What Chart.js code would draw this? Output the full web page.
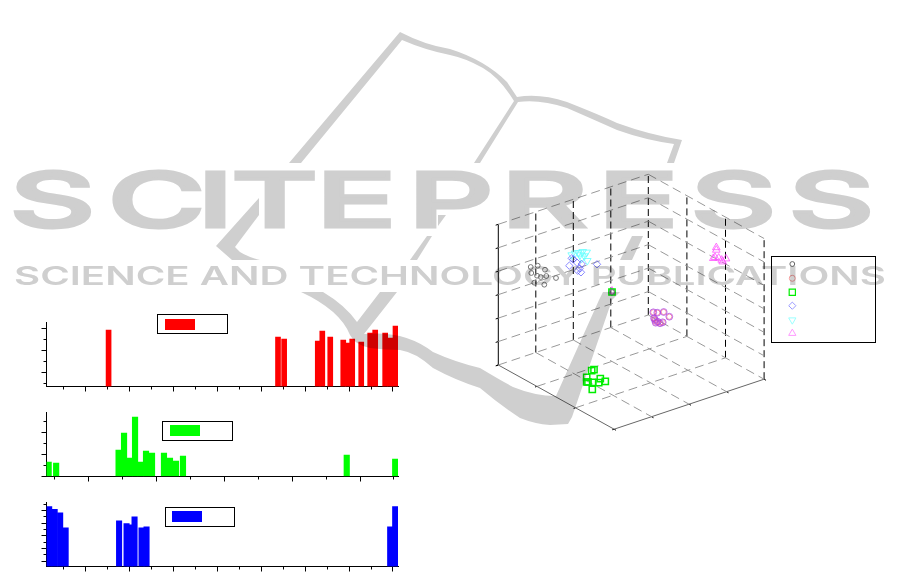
<!DOCTYPE html>
<html>
<head>
<meta charset="utf-8">
<title>Chart</title>
<script src="https://cdn.jsdelivr.net/npm/chart.js@4/dist/chart.umd.min.js"></script>
<style>
html, body { margin: 0; padding: 0; background: #fff; overflow: hidden; }
body { width: 901px; height: 572px; position: relative; }
canvas { position: absolute; }
.box { position: absolute; border: 1px solid #000; box-sizing: border-box; background: #fff; }
.swatch { position: absolute; }
#mark { position: absolute; left: 0; top: 0; mix-blend-mode: multiply; pointer-events: none; }
</style>
</head>
<body>
<canvas id="redChart" style="left:0;top:310px"></canvas>
<canvas id="greenChart" style="left:0;top:400px"></canvas>
<canvas id="blueChart" style="left:0;top:490px"></canvas>

<div class="box" style="left:157px;top:314px;width:71px;height:20px"></div>
<div class="swatch" style="left:165px;top:319px;width:30px;height:11px;background:#ff0000"></div>
<div class="box" style="left:162px;top:421px;width:71px;height:20px"></div>
<div class="swatch" style="left:170px;top:425px;width:30px;height:11px;background:#00ff00"></div>
<div class="box" style="left:165px;top:507px;width:70px;height:20px"></div>
<div class="swatch" style="left:172px;top:511px;width:30px;height:11px;background:#0000ff"></div>
<div class="box" style="left:771px;top:256px;width:105px;height:87px"></div>

<canvas id="scatterChart" style="left:480px;top:160px"></canvas>

<svg id="mark" width="901" height="572" viewBox="0 0 901 572">
  <g fill="#cfcfcf" stroke="none">
    <text transform="translate(0,226.5) scale(1.75,1)" x="5.5 61.6 112.7 132.1 180.7 233.3 286.4 341.9 394.6 450.6" y="0" font-family="Inter" font-weight="500" font-size="76" stroke="#cfcfcf" stroke-width="3">SCITEPRESS</text>
    <text x="14" y="285" font-family="Inter" font-weight="600" font-size="26" textLength="872" lengthAdjust="spacingAndGlyphs">SCIENCE AND TECHNOLOGY PUBLICATIONS</text>
    <path d="M289,163 L400,32 Q425,45 450,49 Q485,60 507,82 L517,97 Q540,93 567,102 Q600,115 617,123 Q650,135 682,140 L674,163 L667,163 L674,144 Q645,140 617,130 Q590,118 567,108 Q540,99 518,102 L480,163 L474,163 L514,101 Q500,78 483,68 Q465,58 450,55 Q425,50 402,40 L301,163 Z"/>
    <path d="M259,198 L259,215 L235,247 L240,252 Q248,257 260,260 L232,260 L216,246 Z"/>
    <path d="M438,215 L446,215 L438,226 Z"/>
    <path d="M427,236 L432,236 L417,260 L410,260 Z"/>
    <path d="M632,236 L643,236 L632,260 L620,260 Z"/>
    <path d="M301,292 L323,292 Q345,305 357,322 L380,292 L397,292 L364,334 Q405,330 433,352 Q455,362 480,368 Q500,380 513,387 Q535,396 556,396 L599,300 L603,292 L620,292 L612,300 L572,417 L568,424 L550,425 Q535,424 520,418 Q500,405 480,388 Q455,380 433,368 Q415,352 400,350 Q385,350 370,348 Q355,345 350,335 Q340,310 301,292 Z"/>
  </g>
</svg>

<script>
// bar panels: position along the x axis and height on the y axis
var redPos = [15.27, 53.83, 55.23, 62.88, 63.91, 65.72, 68.68, 69.7, 70.72, 72.77, 74.81, 75.95, 78.22, 79.36, 80.57];
var redValues = [4.85, 4.21, 4.03, 3.85, 4.76, 4.21, 3.94, 3.66, 4.03, 3.75, 4.57, 4.85, 4.57, 4.12, 5.21];
var greenPos = [8.29, 10.49, 28.88, 30.49, 32.11, 33.73, 35.35, 36.96, 38.73, 42.25, 44.02, 45.79, 47.85, 96.08, 110.35];
var greenValues = [1.3, 1.21, 2.39, 3.94, 1.66, 5.39, 1.3, 2.3, 2.12, 2.12, 1.66, 1.39, 1.85, 1.94, 1.57];
var bluePos = [1.75, 3.0, 4.25, 5.5, 17.66, 19.36, 20.08, 21.18, 22.77, 23.91, 79.36, 80.5];
var blueValues = [8.59, 8.16, 7.64, 5.27, 6.38, 5.91, 5.75, 7.01, 5.27, 5.43, 5.43, 8.59];

// tick values
var wideXMajor = [10, 20, 30, 40, 50, 60, 70, 80];
var wideXMinor = [5, 15, 25, 35, 45, 55, 65, 75];
var greenXMajor = [20, 40, 60, 80, 100];
var greenXMinor = [10, 30, 50, 70, 90, 110];
var redYMajor = [1, 3, 5];
var redYMinor = [0, 2, 4];
var greenYMajor = [0, 2, 4];
var greenYMinor = [1, 3, 5];
var blueYMajor = [0, 2, 4, 6, 8];
var blueYMinor = [1, 3, 5, 7, 9];

// projected scatter points
var blackU = [50.7, 57.7, 65, 51.3, 57, 60.7, 66.3, 54.3, 64.3, 76, 132];
var blackV = [173, 174.3, 170.3, 167, 164.3, 163, 164, 157.3, 155.3, 162, 148];
var redU = [173.3, 177.3, 183.7, 189.3, 174, 175, 175.7, 180, 182.7, 177.7];
var redV = [127.7, 127.3, 128, 123.3, 121.7, 120, 117.3, 116.7, 117.7, 118.3];
var greenU = [114, 111.7, 106.7, 108, 106.7, 112.7, 112.3, 118.7, 120.3, 125.3, 132];
var greenV = [70.3, 69.3, 62.7, 58, 58, 57.7, 50.7, 57.3, 61.3, 58.7, 148];
var blueU = [89.3, 93.3, 97, 101.7, 99.7, 101, 97.7, 117, 91.7, 132];
var blueV = [174.3, 180.7, 177.3, 176, 171.7, 167.7, 169.3, 175.7, 181.7, 148];
var cyanU = [95, 98.3, 102.7, 106.7, 104.3, 101.7, 107.3, 100, 91.7];
var cyanV = [186.7, 187.3, 188.3, 187.7, 184, 181.7, 179.3, 185, 185];
var magentaU = [236.3, 235, 238.7, 242.7, 246, 233.3, 236.3, 241.7, 132];
var magentaV = [190, 182.7, 182, 178.3, 181.3, 181.7, 192.5, 180, 149];
var legendU = [312.3, 312.3, 312.3, 312.3, 312.3, 312.3];
var legendV = [176, 161.7, 147.7, 134.3, 120, 106.7];

// grid divisions of the 3d box
var aTicks = [0, 1, 2, 3, 4];
var bTicks = [0, 1, 2, 3];
var cTicks = [0, 1, 2, 3, 4, 5, 6];

function zip(xs, ys) {
  return xs.map(function(x, i) { return {x: x, y: ys[i]}; });
}

function tickScale(axis, position, min, max, values, length, showBorder) {
  return {
    type: 'linear',
    axis: axis,
    position: position,
    offset: false,
    min: min,
    max: max,
    ticks: {display: false},
    grid: {drawOnChartArea: false, drawTicks: true, tickLength: length, tickColor: '#000', tickWidth: 1, offset: false},
    border: {display: showBorder, color: '#000', width: 1},
    afterBuildTicks: function(scale) {
      scale.ticks = values.map(function(v) { return {value: v}; });
    },
    afterFit: function(scale) {
      if (axis === 'x') scale.height = 0; else scale.width = 0;
    }
  };
}

function barPanel(id, height, bottom, pos, values, color, thickness, xRange, yRange, xMajor, xMinor, yMajor, yMinor) {
  var canvas = document.getElementById(id);
  canvas.width = 420;
  canvas.height = height;
  return new Chart(canvas, {
    type: 'bar',
    data: {
      datasets: [{
        data: zip(pos, values),
        backgroundColor: color,
        borderWidth: 0,
        barThickness: thickness,
        base: yRange[0]
      }]
    },
    options: {
      responsive: false,
      animation: false,
      layout: {padding: {left: 46.5, right: 22, top: 12, bottom: bottom}},
      plugins: {legend: {display: false}, tooltip: {enabled: false}},
      scales: {
        x: tickScale('x', 'bottom', xRange[0], xRange[1], xMajor, 5, true),
        xMinor: tickScale('x', 'bottom', xRange[0], xRange[1], xMinor, 3, false),
        y: tickScale('y', 'left', yRange[0], yRange[1], yMajor, 5, true),
        yMinor: tickScale('y', 'left', yRange[0], yRange[1], yMinor, 3, false)
      }
    }
  });
}

barPanel('redChart', 85, 8.5, redPos, redValues, '#ff0000', 5, [1.14, 81.14], [-0.245, 5.57], wideXMajor, wideXMinor, redYMajor, redYMinor);
barPanel('greenChart', 85, 8.5, greenPos, greenValues, '#00ff00', 5.5, [7.65, 111.18], [0, 5.85], greenXMajor, greenXMinor, greenYMajor, greenYMinor);
barPanel('blueChart', 82, 5.5, bluePos, blueValues, '#0000ff', 5.4, [1.14, 81.14], [-0.84, 9.33], wideXMajor, wideXMinor, blueYMajor, blueYMinor);

// box corner and edge steps in plot units
var cornerL = {u: 18.3, v: 75};
var stepA = {u: 37.5, v: 12.5};
var stepB = {u: 38.6, v: -21.4};
var stepC = 23.45;

function project(a, b, c) {
  return {
    x: cornerL.u + a * stepA.u + b * stepB.u,
    y: cornerL.v + a * stepA.v + b * stepB.v + c * stepC
  };
}

function lineSet(from, to, color, dash) {
  return {
    type: 'line', data: [from, to], borderColor: color, borderWidth: 1, borderDash: dash || [],
    pointRadius: 0, fill: false, tension: 0, order: 2, clip: false
  };
}

function pointSet(us, vs, style, radius, color, width, rotation) {
  return {
    type: 'scatter', data: zip(us, vs), pointStyle: style, pointRadius: radius, pointBorderColor: color,
    pointBackgroundColor: 'transparent', pointBorderWidth: width || 1, pointRotation: rotation || 0, order: 1
  };
}

var gridDash = [9, 5];
var wallColor = '#999';
var sets = [];

// floor
aTicks.forEach(function(a) {
  sets.push(lineSet(project(a, 0, 0), project(a, 3, 0), a === 0 ? '#666' : wallColor, a === 0 ? [] : gridDash));
});
bTicks.forEach(function(b) {
  sets.push(lineSet(project(0, b, 0), project(4, b, 0), b === 3 ? '#666' : wallColor, b === 3 ? [] : gridDash));
});
// walls
cTicks.slice(1).forEach(function(c) {
  sets.push(lineSet(project(0, 0, c), project(4, 0, c), wallColor, gridDash));
  sets.push(lineSet(project(4, 0, c), project(4, 3, c), wallColor, gridDash));
});
// uprights
sets.push(lineSet(project(0, 0, 0), project(0, 0, 6), '#000'));
[1, 2, 3, 4].forEach(function(a) {
  sets.push(lineSet(project(a, 0, 0), project(a, 0, 6), '#000', [7, 4]));
});
[1, 2, 3].forEach(function(b) {
  sets.push(lineSet(project(4, b, 0), project(4, b, 6), '#000', [7, 4]));
});
// small ticks on the box edges
cTicks.forEach(function(c) {
  sets.push(lineSet(project(-0.07, 0, c), project(0, 0, c), '#000'));
});
bTicks.forEach(function(b) {
  sets.push(lineSet(project(-0.05, b, 0), project(0, b, 0), '#000'));
});
aTicks.forEach(function(a) {
  sets.push(lineSet(project(a, 3.05, 0), project(a, 3, 0), '#000'));
});

sets.push(pointSet(blackU, blackV, 'circle', 2.4, '#777'));
sets.push(pointSet(redU, redV, 'circle', 3.4, 'rgba(170,70,230,0.75)'));
sets.push(pointSet(redU, redV, 'circle', 2.6, 'rgba(240,60,110,0.55)'));
sets.push(pointSet(greenU, greenV, 'rect', 4.4, '#00ee00', 1.5));
sets.push(pointSet(blueU, blueV, 'rectRot', 3.7, 'rgba(90,90,255,0.7)'));
sets.push(pointSet(cyanU, cyanV, 'triangle', 4.4, 'rgba(100,255,255,0.8)', 1, 180));
sets.push(pointSet(magentaU, magentaV, 'triangle', 4.4, 'rgba(255,80,255,0.8)'));

// legend markers
sets.push(pointSet(legendU.slice(0, 1), legendV.slice(0, 1), 'circle', 2.4, '#666'));
sets.push(pointSet(legendU.slice(1, 2), legendV.slice(1, 2), 'circle', 3, '#f59a9a'));
sets.push(pointSet(legendU.slice(2, 3), legendV.slice(2, 3), 'rect', 4.4, '#00ee00', 1.2));
sets.push(pointSet(legendU.slice(3, 4), legendV.slice(3, 4), 'rectRot', 3.6, '#9a9aff'));
sets.push(pointSet(legendU.slice(4, 5), legendV.slice(4, 5), 'triangle', 4.2, '#9affff', 1, 180));
sets.push(pointSet(legendU.slice(5, 6), legendV.slice(5, 6), 'triangle', 4.2, '#ff9aff'));

var scatterCanvas = document.getElementById('scatterChart');
scatterCanvas.width = 400;
scatterCanvas.height = 280;
new Chart(scatterCanvas, {
  type: 'scatter',
  data: {datasets: sets},
  options: {
    responsive: false,
    animation: false,
    layout: {padding: 0, autoPadding: false},
    plugins: {legend: {display: false}, tooltip: {enabled: false}},
    scales: {
      x: {type: 'linear', display: false, offset: false, min: 0, max: 400},
      y: {type: 'linear', display: false, offset: false, min: 0, max: 280}
    }
  }
});
</script>
</body>
</html>
